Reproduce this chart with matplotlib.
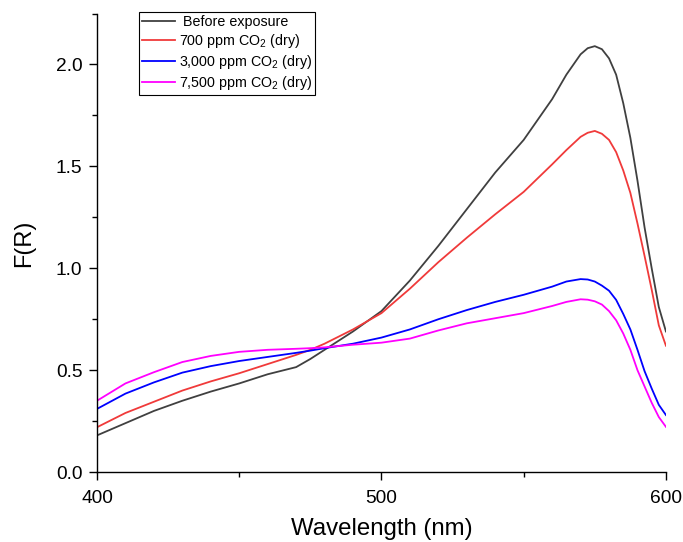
import matplotlib
matplotlib.use("Agg")
import matplotlib.pyplot as plt
from matplotlib.ticker import MultipleLocator

plt.rcParams['font.family'] = ['Liberation Sans', 'DejaVu Sans']
plt.rcParams['mathtext.fontset'] = 'custom'
plt.rcParams['mathtext.rm'] = 'Liberation Sans'

# wavelength grid (nm) and F(R)
wavelength = [400, 410, 420, 430, 440, 450, 460, 470, 475, 480, 490, 500, 510, 520,
              530, 540, 550, 560, 565, 570, 572.5, 575, 577.5, 580, 582.5, 585,
              587.5, 590, 592.5, 595, 597.5, 600]
before = [0.18, 0.24, 0.30, 0.35, 0.395, 0.435, 0.48, 0.515, 0.555, 0.60, 0.69, 0.79, 0.94, 1.11,
          1.29, 1.47, 1.63, 1.83, 1.95, 2.05, 2.08, 2.09, 2.075, 2.03, 1.95, 1.81,
          1.64, 1.43, 1.20, 1.00, 0.81, 0.69]
co2_700 = [0.22, 0.29, 0.345, 0.40, 0.445, 0.485, 0.53, 0.575, 0.60, 0.63, 0.70, 0.78, 0.90, 1.03,
           1.15, 1.265, 1.375, 1.51, 1.58, 1.645, 1.665, 1.674, 1.66, 1.63, 1.57, 1.48,
           1.37, 1.22, 1.06, 0.895, 0.72, 0.62]
co2_3000 = [0.31, 0.385, 0.44, 0.488, 0.52, 0.545, 0.565, 0.585, 0.596, 0.608, 0.63, 0.66, 0.70, 0.75,
            0.795, 0.835, 0.87, 0.91, 0.935, 0.947, 0.945, 0.935, 0.915, 0.89, 0.845, 0.776,
            0.70, 0.60, 0.495, 0.41, 0.33, 0.28]
co2_7500 = [0.35, 0.435, 0.49, 0.54, 0.57, 0.59, 0.60, 0.605, 0.608, 0.612, 0.625, 0.635, 0.655, 0.695,
            0.73, 0.755, 0.78, 0.815, 0.835, 0.848, 0.846, 0.838, 0.822, 0.79, 0.745, 0.68,
            0.60, 0.50, 0.42, 0.34, 0.27, 0.222]

labels = [' Before exposure', '700 ppm CO$_2$ (dry)',
          '3,000 ppm CO$_2$ (dry)', '7,500 ppm CO$_2$ (dry)']
colors = ['#404040', '#f03a3a', '#0000ff', '#ff00ff']

fig = plt.figure(figsize=(6.83, 5.42), dpi=100)
ax = fig.add_axes([0.142, 0.129, 0.833, 0.846])

for ys, lab, c in zip([before, co2_700, co2_3000, co2_7500], labels, colors):
    ax.plot(wavelength, ys, color=c, lw=1.3, label=lab)

ax.set_xlim(400, 600)
ax.set_ylim(0, 2.25)
ax.xaxis.set_major_locator(MultipleLocator(100))
ax.xaxis.set_minor_locator(MultipleLocator(50))
ax.yaxis.set_major_locator(MultipleLocator(0.5))
ax.yaxis.set_minor_locator(MultipleLocator(0.25))
ax.spines['top'].set_visible(False)
ax.spines['right'].set_visible(False)
for s in ['left', 'bottom']:
    ax.spines[s].set_linewidth(1.0)
ax.tick_params(which='major', direction='out', length=6, width=1.0, labelsize=13.8)
ax.tick_params(which='minor', direction='out', length=3.5, width=1.0)
ax.tick_params(axis='x', which='major', pad=7)
ax.tick_params(axis='y', which='major', pad=4.5)
ax.set_xlabel('Wavelength (nm)', fontsize=17.3, labelpad=8)
ax.set_ylabel('F(R)', fontsize=17, labelpad=15)

leg = ax.legend(loc='upper left', bbox_to_anchor=(0.074, 1.004), fontsize=10.3,
                frameon=True, fancybox=False, edgecolor='black', framealpha=1,
                handlelength=2.3, handletextpad=0.3, labelspacing=0.22,
                borderpad=0.2, borderaxespad=0)
leg.get_frame().set_linewidth(0.8)

fig.savefig('out.png', dpi=100)
